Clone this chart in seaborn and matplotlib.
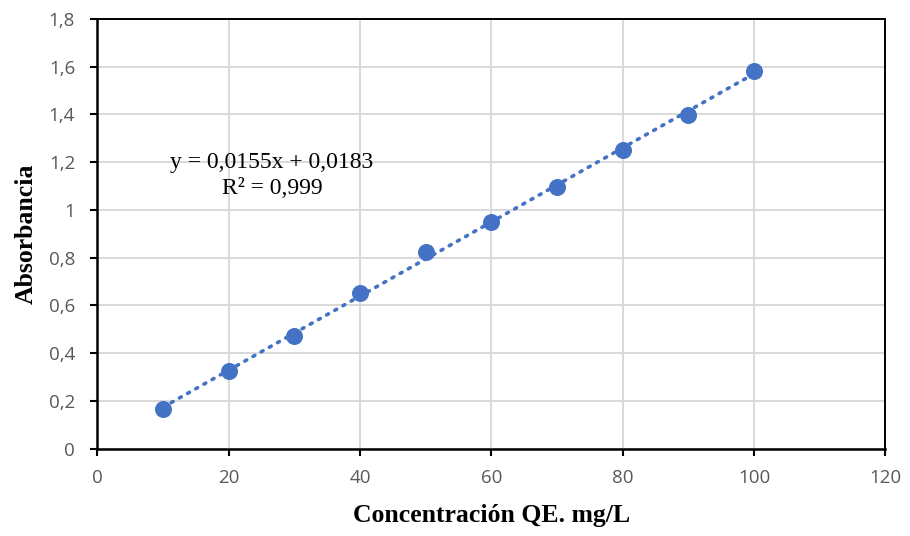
import numpy as np
import pandas as pd
import matplotlib
matplotlib.use("Agg")
import matplotlib.pyplot as plt
import seaborn as sns
from matplotlib.ticker import FuncFormatter, MultipleLocator

# -------------------- Data --------------------
concentracion = [10, 20, 30, 40, 50, 60, 70, 80, 90, 100]
absorbancia = [0.167, 0.327, 0.470, 0.650, 0.825, 0.951, 1.095, 1.251, 1.398, 1.582]
ecuacion = "y = 0,0155x + 0,0183"
r_cuadrado = "R² = 0,999"

df = pd.DataFrame({"conc": concentracion, "abs": absorbancia})

# -------------------- Plot --------------------
sns.set_theme(style="white")
plt.rcParams["font.family"] = ["Open Sans", "DejaVu Sans"]

fig, ax = plt.subplots(figsize=(9.1, 5.36), dpi=100)
fig.subplots_adjust(left=0.107, right=0.973, top=0.965, bottom=0.163)

blue = "#4472C4"

# linear trendline (dotted)
slope, intercept = np.polyfit(df["conc"], df["abs"], 1)
xs = np.array([df["conc"].min(), df["conc"].max()])
ax.plot(xs, slope * xs + intercept, color=blue, lw=2.6,
        linestyle=(0, (0.6, 2.0)), dash_capstyle="round", zorder=2)

sns.scatterplot(data=df, x="conc", y="abs", ax=ax, s=150, color=blue,
                edgecolor=blue, linewidth=0, zorder=3)

ax.set_xlim(0, 120)
ax.set_ylim(0, 1.8)
ax.xaxis.set_major_locator(MultipleLocator(20))
ax.yaxis.set_major_locator(MultipleLocator(0.2))
ax.yaxis.set_major_formatter(FuncFormatter(
    lambda v, p: "0" if abs(v) < 1e-9 else ("1" if abs(v - 1) < 1e-9 else f"{v:.1f}".replace(".", ","))))

ax.grid(True, color="#D9D9D9", linewidth=1.4)
ax.set_axisbelow(True)

for side in ["left", "bottom"]:
    ax.spines[side].set_linewidth(1.8)
    ax.spines[side].set_color("black")
for side in ["top", "right"]:
    ax.spines[side].set_linewidth(1.4)
    ax.spines[side].set_color("black")

ax.tick_params(axis="both", which="major", direction="out", length=5, width=1.5,
               color="black", labelsize=13.5, labelcolor="#595959",
               bottom=True, left=True)
ax.tick_params(axis="x", pad=10)
ax.tick_params(axis="y", pad=11)

ax.set_xlabel("Concentración QE. mg/L", fontsize=18.5, fontweight="bold",
              family="Liberation Serif", color="black", labelpad=12)
ax.set_ylabel("Absorbancia", fontsize=18.5, fontweight="bold",
              family="Liberation Serif", color="black", labelpad=8)

ax.text(26.6, 1.20, ecuacion, ha="center", va="center", fontsize=17,
        family="Liberation Serif", color="black")
ax.text(26.6, 1.09, r_cuadrado, ha="center", va="center", fontsize=17,
        family="Liberation Serif", color="black")

fig.savefig("out.png", dpi=100)
